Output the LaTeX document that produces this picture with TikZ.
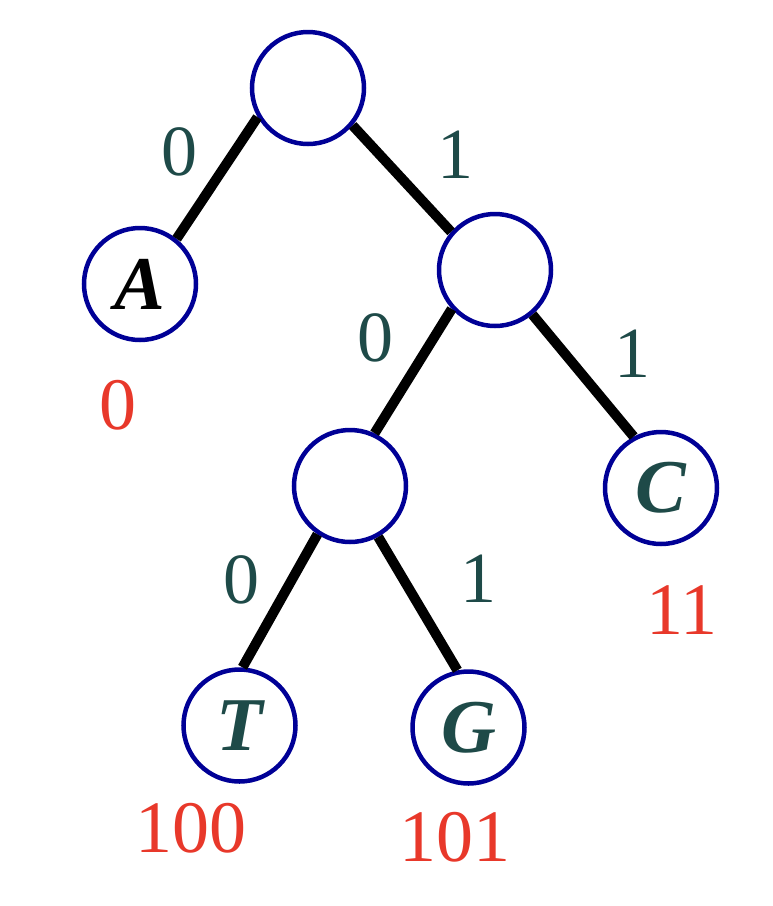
\documentclass[tikz,border=0pt]{standalone}
\usepackage{fontspec}
\setmainfont{Liberation Serif}
\definecolor{navy}{RGB}{0,0,150}
\definecolor{teal2}{RGB}{30,74,72}
\definecolor{codered}{RGB}{232,56,42}
\begin{document}
\begin{tikzpicture}[x=1pt,y=-1pt,
  vert/.style={circle,draw=navy,line width=4.5pt,minimum size=112pt,inner sep=0pt,
    font=\fontsize{76}{80}\selectfont\bfseries\itshape,text=teal2},
  edge/.style={line width=10pt,black},
  bit/.style={font=\fontsize{72}{80}\selectfont,text=teal2,inner sep=0pt},
  code/.style={font=\fontsize{74}{80}\selectfont,text=codered,inner sep=0pt}]
\useasboundingbox (0,0) rectangle (772,906);
\node[vert] (root) at (308,88) {};
\node[vert,text=black] (A) at (140,284) {A};
\node[vert] (R) at (495,270) {};
\node[vert] (L) at (350,486) {};
\node[vert] (C) at (661,488) {C};
\node[vert] (T) at (239.5,725.5) {T};
\node[vert] (G) at (468.5,727.5) {G};
\draw[edge] (root.210) -- (A.51);
\draw[edge] (root.-40) -- (R.139);
\draw[edge] (R.222) -- (L.65);
\draw[edge] (R.-50) -- (C.118);
\draw[edge] (L.236) -- (T.87);
\draw[edge] (L.-61) -- (G.101);
\node[bit] (b1) at (179,152) {0};
\node[bit] (b2) at (455,155) {1};
\node[bit] (b3) at (375,338) {0};
\node[bit] (b4) at (632,354) {1};
\node[bit] (b5) at (241,580) {0};
\node[bit] (b6) at (478,579) {1};
\node[code] (cA) at (118,405) {0};
\node[code] (cC) at (682,610) {11};
\node[code] (cT) at (191,828) {100};
\node[code] (cG) at (455,837) {101};
\end{tikzpicture}
\end{document}
